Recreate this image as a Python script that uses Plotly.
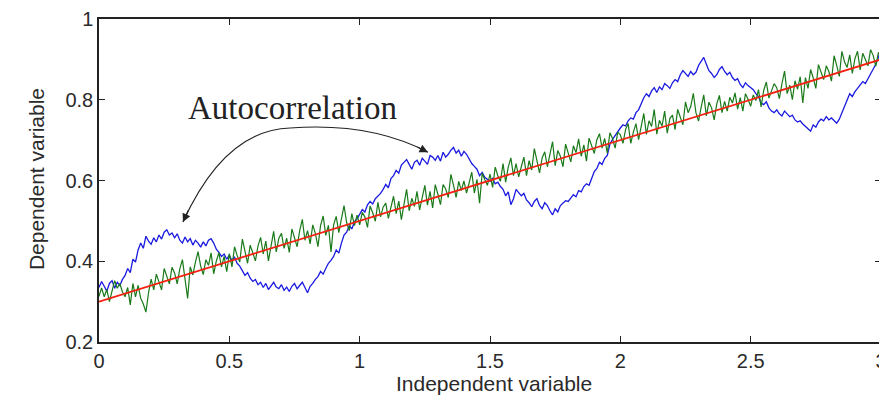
import numpy as np
import plotly.graph_objects as go

# ---------------- data ----------------
x_grid = np.linspace(0, 3, 301)

trend_x = [0.0, 3.0]
trend_y = [0.30, 0.90]

green_y = [
    0.313, 0.334, 0.312, 0.330, 0.300, 0.326, 0.352, 0.333, 0.345, 0.324,
    0.312, 0.335, 0.292, 0.345, 0.312, 0.340, 0.308, 0.294, 0.274, 0.322,
    0.356, 0.329, 0.368, 0.349, 0.329, 0.382, 0.360, 0.344, 0.385, 0.371,
    0.344, 0.381, 0.404, 0.353, 0.308, 0.386, 0.366, 0.398, 0.424, 0.388,
    0.367, 0.404, 0.390, 0.421, 0.369, 0.400, 0.421, 0.386, 0.412, 0.374,
    0.419, 0.386, 0.436, 0.414, 0.398, 0.455, 0.425, 0.395, 0.440, 0.421,
    0.401, 0.438, 0.459, 0.418, 0.450, 0.401, 0.442, 0.474, 0.423, 0.457,
    0.469, 0.432, 0.457, 0.422, 0.480, 0.456, 0.436, 0.476, 0.504, 0.452,
    0.476, 0.443, 0.490, 0.469, 0.436, 0.489, 0.512, 0.464, 0.489, 0.423,
    0.490, 0.511, 0.471, 0.505, 0.538, 0.496, 0.476, 0.518, 0.488, 0.514,
    0.490, 0.521, 0.510, 0.484, 0.537, 0.520, 0.499, 0.546, 0.510, 0.534,
    0.544, 0.506, 0.537, 0.561, 0.518, 0.549, 0.503, 0.542, 0.578, 0.525,
    0.556, 0.536, 0.573, 0.527, 0.558, 0.588, 0.539, 0.573, 0.532, 0.590,
    0.566, 0.540, 0.590, 0.579, 0.558, 0.615, 0.588, 0.558, 0.598, 0.575,
    0.599, 0.569, 0.594, 0.621, 0.569, 0.603, 0.544, 0.618, 0.602, 0.588,
    0.616, 0.583, 0.633, 0.612, 0.598, 0.642, 0.596, 0.633, 0.656, 0.612,
    0.642, 0.609, 0.634, 0.658, 0.612, 0.649, 0.626, 0.679, 0.649, 0.619,
    0.656, 0.671, 0.634, 0.665, 0.696, 0.637, 0.674, 0.660, 0.634, 0.690,
    0.670, 0.646, 0.686, 0.669, 0.703, 0.660, 0.688, 0.648, 0.705, 0.684,
    0.667, 0.701, 0.716, 0.680, 0.704, 0.668, 0.718, 0.704, 0.680, 0.720,
    0.713, 0.692, 0.726, 0.741, 0.692, 0.720, 0.741, 0.701, 0.735, 0.766,
    0.714, 0.748, 0.734, 0.776, 0.715, 0.749, 0.735, 0.772, 0.717, 0.754,
    0.762, 0.726, 0.776, 0.759, 0.738, 0.795, 0.768, 0.783, 0.816, 0.768,
    0.747, 0.781, 0.812, 0.760, 0.794, 0.780, 0.750, 0.790, 0.811, 0.768,
    0.796, 0.772, 0.806, 0.792, 0.817, 0.777, 0.805, 0.772, 0.815, 0.801,
    0.784, 0.812, 0.798, 0.825, 0.782, 0.823, 0.844, 0.804, 0.822, 0.840,
    0.830, 0.803, 0.840, 0.871, 0.815, 0.836, 0.800, 0.847, 0.826, 0.857,
    0.792, 0.855, 0.828, 0.875, 0.854, 0.828, 0.887, 0.870, 0.850, 0.884,
    0.870, 0.846, 0.909, 0.885, 0.858, 0.920, 0.894, 0.880, 0.911, 0.865,
    0.902, 0.920, 0.874, 0.915, 0.901, 0.884, 0.924, 0.910, 0.883, 0.917,
    0.910,
]

blue_y = [
    0.335, 0.350, 0.338, 0.326, 0.345, 0.352, 0.333, 0.348, 0.340, 0.355,
    0.365, 0.382, 0.372, 0.405, 0.398, 0.428, 0.445, 0.432, 0.462, 0.450,
    0.442, 0.458, 0.448, 0.465, 0.455, 0.472, 0.478, 0.465, 0.470, 0.458,
    0.468, 0.452, 0.445, 0.460, 0.448, 0.456, 0.440, 0.452, 0.445, 0.435,
    0.448, 0.438, 0.452, 0.456, 0.445, 0.430, 0.422, 0.412, 0.418, 0.405,
    0.415, 0.402, 0.410, 0.395, 0.388, 0.378, 0.365, 0.372, 0.358, 0.350,
    0.355, 0.342, 0.348, 0.335, 0.345, 0.330, 0.340, 0.348, 0.336, 0.332,
    0.342, 0.328, 0.336, 0.325, 0.338, 0.345, 0.332, 0.340, 0.348, 0.335,
    0.322, 0.338, 0.345, 0.355, 0.362, 0.375, 0.368, 0.382, 0.395, 0.402,
    0.412, 0.428, 0.420, 0.445, 0.465, 0.472, 0.488, 0.480, 0.498, 0.505,
    0.518, 0.528, 0.522, 0.540, 0.548, 0.542, 0.555, 0.562, 0.568, 0.578,
    0.590, 0.582, 0.605, 0.612, 0.625, 0.618, 0.638, 0.645, 0.652, 0.640,
    0.628, 0.645, 0.650, 0.638, 0.655, 0.648, 0.640, 0.662, 0.658, 0.650,
    0.662, 0.648, 0.670, 0.658, 0.665, 0.675, 0.682, 0.668, 0.675, 0.660,
    0.672, 0.665, 0.652, 0.642, 0.635, 0.628, 0.612, 0.620, 0.608, 0.602,
    0.598, 0.605, 0.592, 0.596, 0.585, 0.578, 0.562, 0.572, 0.540, 0.555,
    0.578, 0.570, 0.562, 0.568, 0.552, 0.545, 0.535, 0.548, 0.555, 0.538,
    0.530, 0.545, 0.538, 0.525, 0.515, 0.530, 0.522, 0.538, 0.545, 0.550,
    0.548, 0.558, 0.565, 0.560, 0.575, 0.572, 0.585, 0.592, 0.588, 0.605,
    0.622, 0.630, 0.645, 0.640, 0.655, 0.662, 0.690, 0.702, 0.712, 0.722,
    0.730, 0.738, 0.735, 0.748, 0.755, 0.752, 0.768, 0.775, 0.792, 0.805,
    0.815, 0.808, 0.822, 0.830, 0.818, 0.832, 0.825, 0.840, 0.835, 0.828,
    0.842, 0.850, 0.845, 0.862, 0.872, 0.865, 0.858, 0.870, 0.862, 0.868,
    0.885, 0.895, 0.905, 0.888, 0.872, 0.865, 0.855, 0.862, 0.875, 0.882,
    0.870, 0.862, 0.868, 0.855, 0.848, 0.852, 0.838, 0.830, 0.842, 0.835,
    0.830, 0.825, 0.815, 0.808, 0.792, 0.788, 0.795, 0.780, 0.772, 0.768,
    0.775, 0.765, 0.760, 0.772, 0.765, 0.758, 0.762, 0.750, 0.745, 0.748,
    0.740, 0.735, 0.728, 0.722, 0.738, 0.732, 0.745, 0.752, 0.748, 0.758,
    0.750, 0.755, 0.748, 0.742, 0.752, 0.768, 0.785, 0.800, 0.815, 0.808,
    0.820, 0.828, 0.838, 0.845, 0.840, 0.852, 0.865, 0.878, 0.888, 0.905,
    0.930,
]

x_ticks = [0, 0.5, 1, 1.5, 2, 2.5, 3]
y_ticks = [0.2, 0.4, 0.6, 0.8, 1]
label_text = "Autocorrelation"
x_title = "Independent variable"
y_title = "Dependent variable"

# ---------------- figure ----------------
sans = "Liberation Sans, Arial, sans-serif"
txt_col = "#2a2a2a"

fig = go.Figure()
fig.add_trace(go.Scatter(x=x_grid, y=blue_y, mode="lines",
                         line=dict(color="#1a1ae0", width=1.3), showlegend=False))
fig.add_trace(go.Scatter(x=x_grid, y=green_y, mode="lines",
                         line=dict(color="#1a7a1a", width=1.2), showlegend=False))
fig.add_trace(go.Scatter(x=trend_x, y=trend_y, mode="lines",
                         line=dict(color="#f52010", width=1.8), showlegend=False))

# curved double-headed arrow
arrow_col = "#222222"
fig.add_shape(type="path", xref="x", yref="y",
              path="M 0.733 0.730 Q 0.483 0.725 0.322 0.497",
              line=dict(color=arrow_col, width=1.2))
fig.add_shape(type="path", xref="x", yref="y",
              path="M 0.733 0.730 Q 1.040 0.745 1.262 0.670",
              line=dict(color=arrow_col, width=1.2))
fig.add_annotation(x=0.322, y=0.497, xref="x", yref="y", text="", showarrow=True,
                   ax=6, ay=-13, arrowhead=2, arrowsize=1.4, arrowwidth=1.2,
                   arrowcolor=arrow_col)
fig.add_annotation(x=1.262, y=0.670, xref="x", yref="y", text="", showarrow=True,
                   ax=-12, ay=-6, arrowhead=2, arrowsize=1.4, arrowwidth=1.2,
                   arrowcolor=arrow_col)
fig.add_annotation(x=0.744, y=0.780, xref="x", yref="y", text=label_text,
                   showarrow=False,
                   font=dict(family="Liberation Serif, Times New Roman, serif",
                             size=33, color="#222222"))

# axis titles
fig.add_annotation(x=0.505, y=-0.127, xref="paper", yref="paper", text=x_title,
                   showarrow=False, xanchor="center", yanchor="middle",
                   font=dict(family=sans, size=21, color=txt_col))
fig.add_annotation(x=-0.079, y=0.505, xref="paper", yref="paper", text=y_title,
                   showarrow=False, xanchor="center", yanchor="middle", textangle=-90,
                   font=dict(family=sans, size=21, color=txt_col))

axis_common = dict(showline=True, linecolor="#222222", linewidth=1.5, mirror="ticks",
                   ticks="inside", ticklen=6, tickcolor="#222222", tickwidth=1.2,
                   showgrid=False, zeroline=False, automargin=False,
                   tickfont=dict(family=sans, size=20, color=txt_col))

fig.update_xaxes(range=[0, 3], tickvals=x_ticks, **axis_common)
fig.update_yaxes(range=[0.2, 1], tickvals=y_ticks, **axis_common)

# the page adds an 8 px body margin, so the figure is sized and offset to match
fig.update_layout(width=879, height=393,
                  margin=dict(l=91, r=6, t=11, b=59),
                  paper_bgcolor="white", plot_bgcolor="white")

fig.write_html("out.html")
